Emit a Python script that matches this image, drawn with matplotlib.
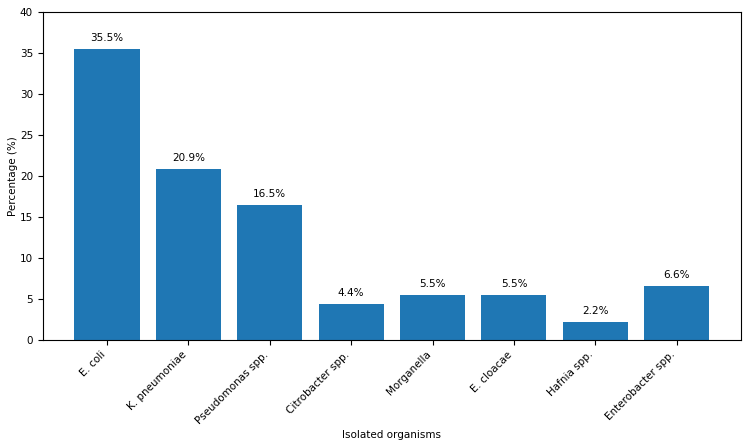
import numpy as np
import matplotlib.pyplot as plt

organisms = ['E. coli', 'K. pneumoniae', 'Pseudomonas spp.', 'Citrobacter spp.',
             'Morganella', 'E. cloacae', 'Hafnia spp.', 'Enterobacter spp.']
percentages = [35.5, 20.9, 16.5, 4.4, 5.5, 5.5, 2.2, 6.6]

plt.rcParams['font.size'] = 7.5

fig, ax = plt.subplots(figsize=(7.5, 4.47), dpi=100)
bars = ax.bar(organisms, percentages, color='#1f77b4')

for b, v in zip(bars, percentages):
    ax.annotate(f'{v}%', (b.get_x() + b.get_width() / 2, b.get_height()),
                xytext=(0, 4), textcoords='offset points', ha='center', va='bottom')

ax.set_ylim(0, 40)
ax.set_xlabel('Isolated organisms', labelpad=3)
ax.set_ylabel('Percentage (%)', labelpad=1)
plt.setp(ax.get_xticklabels(), rotation=45, ha='right')

fig.subplots_adjust(left=0.057, right=0.988, top=0.973, bottom=0.24)
fig.savefig('out.png')
